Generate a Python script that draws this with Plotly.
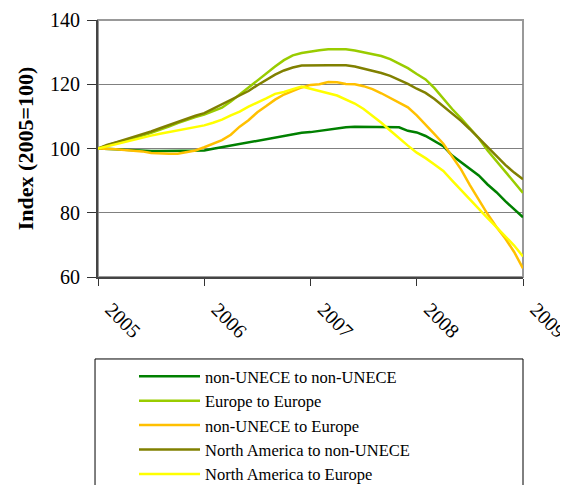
import plotly.graph_objects as go

# monthly index values, Jan 2005 .. Jan 2009 (2005 = 100)
months = [2005 + i / 12 for i in range(49)]

non_unece_to_non_unece = [
    100.0, 100.0, 99.8, 99.6, 99.4, 99.3, 99.2, 99.2, 99.2, 99.2, 99.2, 99.2,
    99.4, 99.9, 100.4, 100.9, 101.4, 101.9, 102.4, 102.9, 103.4, 103.9, 104.4, 104.9,
    105.1, 105.5, 105.9, 106.1, 106.6, 106.8, 106.8, 106.8, 106.8, 106.8, 106.6, 105.5,
    105.0, 103.9, 102.3, 100.7, 97.8, 95.8, 93.6, 91.6, 88.8, 86.4, 83.6, 81.2,
    78.6]
europe_to_europe = [
    100.0, 101.0, 101.8, 102.5, 103.2, 104.0, 104.9, 105.8, 106.8, 107.9, 108.9, 109.8,
    110.6, 111.6, 112.7, 114.6, 116.8, 119.0, 121.4, 123.5, 125.5, 127.5, 129.0, 129.7,
    130.2, 130.6, 130.9, 130.9, 130.9, 130.5, 130.0, 129.4, 128.8, 127.8, 126.5, 125.0,
    123.2, 121.5, 118.8, 115.5, 112.3, 109.4, 106.3, 103.2, 99.4, 96.0, 92.7, 89.5,
    86.2]
non_unece_to_europe = [
    100.0, 100.0, 99.8, 99.5, 99.3, 99.1, 98.6, 98.4, 98.4, 98.4, 98.8, 99.4,
    100.4, 101.4, 102.6, 104.3, 106.8, 108.8, 111.3, 113.2, 115.2, 116.8, 118.0, 119.0,
    119.8, 120.0, 120.7, 120.6, 120.1, 120.0, 119.4, 118.5, 117.2, 115.8, 114.4, 112.8,
    110.3, 107.5, 104.5, 101.5, 97.6, 93.5, 88.6, 84.0, 79.6, 75.6, 72.0, 67.8,
    62.7]
north_america_to_non_unece = [
    100.0, 101.1, 101.9, 102.7, 103.5, 104.4, 105.3, 106.3, 107.3, 108.3, 109.3, 110.2,
    111.0, 112.4, 113.7, 115.0, 116.4, 117.9, 119.7, 121.4, 123.0, 124.3, 125.2, 125.8,
    125.9, 125.9, 125.9, 125.9, 125.9, 125.5, 124.9, 124.2, 123.5, 122.6, 121.4, 120.1,
    118.6, 117.3, 115.4, 113.2, 111.0, 108.6, 106.0, 103.2, 100.4, 97.6, 94.9, 92.5,
    90.4]
north_america_to_europe = [
    100.0, 100.7, 101.3, 101.9, 102.6, 103.3, 104.0, 104.6, 105.1, 105.6, 106.1, 106.5,
    107.2, 108.0, 109.0, 110.3, 111.5, 113.0, 114.2, 115.6, 117.0, 117.6, 118.5, 119.3,
    118.6, 117.8, 117.2, 116.5, 115.3, 114.0, 112.3, 110.2, 108.0, 105.6, 103.1, 100.9,
    98.7, 97.0, 95.0, 93.0, 90.0, 87.0, 84.1, 81.2, 78.3, 75.5, 72.8, 69.8,
    66.4]

year_ticks = [2005, 2006, 2007, 2008, 2009]
y_ticks = [60, 80, 100, 120, 140]

series = [
    ("non-UNECE to non-UNECE", non_unece_to_non_unece, "#008000"),
    ("Europe to Europe", europe_to_europe, "#99CC00"),
    ("non-UNECE to Europe", non_unece_to_europe, "#FFC000"),
    ("North America to non-UNECE", north_america_to_non_unece, "#808000"),
    ("North America to Europe", north_america_to_europe, "#FFFF00"),
]

serif = "Liberation Serif"

fig = go.Figure()
for name, vals, col in series:
    fig.add_trace(go.Scatter(x=months, y=vals, name=name, mode="lines",
                             line=dict(color=col, width=2.5)))

# page body adds an 8px offset, margins account for it
fig.update_layout(
    width=568, height=485,
    margin=dict(l=90, r=53, t=12, b=216, autoexpand=False),
    plot_bgcolor="white", paper_bgcolor="white",
    font=dict(family=serif, size=20, color="black"),
    showlegend=True,
    legend=dict(x=0.0847, y=-0.319, xanchor="left", yanchor="top",
                font=dict(family=serif, size=16.5),
                bgcolor="rgba(0,0,0,0)", borderwidth=0,
                itemwidth=61, tracegroupgap=0),
    shapes=[
        # plot frame (top / right in light grey)
        dict(type="rect", xref="paper", yref="paper", x0=0, x1=1, y0=0, y1=1,
             line=dict(color="#999999", width=2), layer="below"),
        # legend box
        dict(type="rect", xref="paper", yref="paper", x0=-0.007, x1=1.0,
             y0=-0.84, y1=-0.319, line=dict(color="black", width=1)),
    ],
)

fig.update_xaxes(range=[2005, 2009], tickvals=year_ticks,
                 ticktext=[str(y) for y in year_ticks], tickangle=45,
                 ticks="outside", ticklen=7, tickcolor="#333333",
                 showline=True, linecolor="#444444", linewidth=2,
                 showgrid=False, zeroline=False,
                 ticklabelstandoff=4, ticklabelshift=13,
                 automargin=False)
fig.update_yaxes(range=[60, 140], tickvals=y_ticks,
                 ticks="outside", ticklen=9, tickcolor="#333333",
                 showline=True, linecolor="#444444", linewidth=2,
                 showgrid=True, gridcolor="#808080", gridwidth=1, zeroline=False,
                 ticklabelstandoff=3, automargin=False,
                 title=dict(text="<b>Index (2005=100)</b>", standoff=10,
                            font=dict(family=serif, size=22)))

fig.write_html("out.html")
